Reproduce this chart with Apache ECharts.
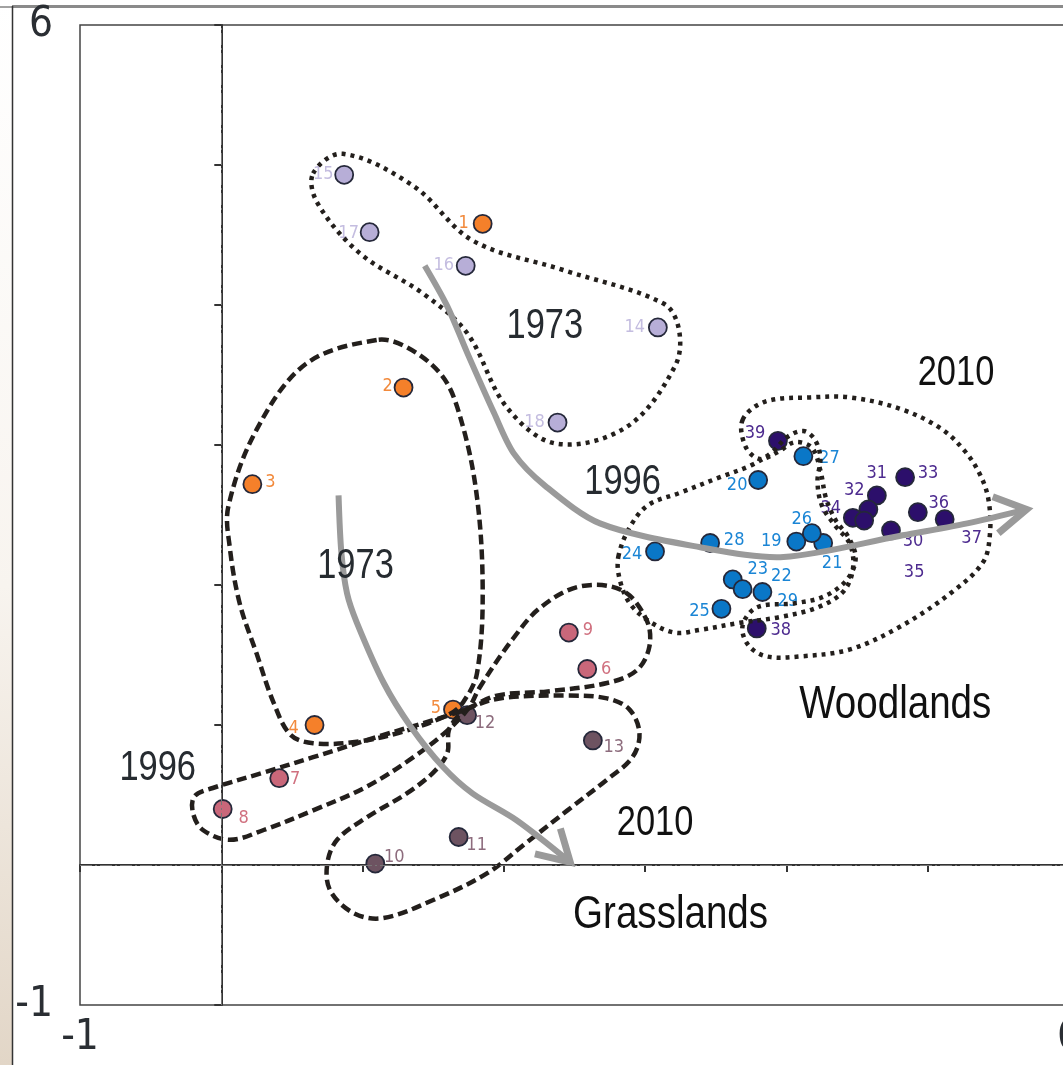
<!DOCTYPE html>
<html>
<head>
<meta charset="utf-8">
<script src="https://cdn.jsdelivr.net/npm/echarts@6/dist/echarts.min.js"></script>
<style>
  html, body { margin: 0; padding: 0; background: #fff; }
  #chart { width: 1063px; height: 1065px; }
</style>
</head>
<body>
<div id="chart"></div>
<script>
// site scores
// grasslands 1973 (orange)
var g73Id = [1, 2, 3, 4, 5];
var g73X = [1.85, 1.29, 0.22, 0.66, 1.64];
var g73Y = [4.58, 3.41, 2.72, 1.00, 1.11];
// grasslands 1996 (pink)
var g96Id = [6, 7, 8, 9];
var g96X = [2.59, 0.41, 0.01, 2.46];
var g96Y = [1.40, 0.62, 0.40, 1.66];
// grasslands 2010 (mauve)
var g10Id = [10, 11, 12, 13];
var g10X = [1.09, 1.68, 1.74, 2.63];
var g10Y = [0.01, 0.20, 1.07, 0.89];
// woodlands 1973 (lavender)
var w73Id = [14, 15, 16, 17, 18];
var w73X = [3.09, 0.87, 1.73, 1.05, 2.38];
var w73Y = [3.84, 4.93, 4.28, 4.52, 3.16];
// woodlands 1996 (blue)
var w96Id = [19, 20, 21, 22, 23, 24, 25, 26, 27, 28, 29];
var w96X = [4.07, 3.80, 4.26, 3.83, 3.62, 3.07, 3.54, 4.18, 4.12, 3.46, 3.69];
var w96Y = [2.31, 2.75, 2.30, 1.95, 2.04, 2.24, 1.83, 2.37, 2.92, 2.30, 1.97];
// woodlands 2010 (purple)
var w10Id = [30, 31, 32, 33, 34, 35, 36, 37, 38, 39];
var w10X = [4.74, 4.64, 4.58, 4.84, 4.47, 4.55, 4.93, 5.12, 3.79, 3.94];
var w10Y = [2.39, 2.64, 2.54, 2.77, 2.48, 2.46, 2.52, 2.47, 1.69, 3.03];

// hand drawn envelopes round each group (data units)
var hullW73 = [[0.65,4.94],[0.86,5.08],[1.36,4.85],[1.78,4.46],[2.42,4.25],[3.13,4.01],[3.24,3.82],[3.21,3.56],
  [2.87,3.13],[2.37,3.01],[2.02,3.27],[1.74,3.80],[1.43,4.08],[0.98,4.37],[0.68,4.73]];
var hullG73 = [[1.10,3.75],[0.60,3.58],[0.25,3.11],[0.05,2.56],[0.06,2.27],[0.13,1.87],[0.25,1.51],[0.37,1.16],
  [0.49,0.93],[0.65,0.87],[0.96,0.88],[1.31,0.96],[1.62,1.08],[1.71,1.16],[1.81,1.37],[1.85,1.99],[1.80,2.70],
  [1.67,3.27],[1.55,3.51],[1.31,3.70]];
var hullG96 = [[1.70,1.10],[1.12,0.92],[0.65,0.77],[0.30,0.66],[-0.06,0.55],[-0.19,0.49],[-0.20,0.37],[-0.13,0.25],
  [0.06,0.18],[0.30,0.25],[0.65,0.39],[1.03,0.56],[1.36,0.77],[1.60,0.96],[1.75,1.12],[1.83,1.27],[2.06,1.61],
  [2.26,1.84],[2.54,1.99],[2.84,1.96],[3.01,1.75],[3.03,1.56],[2.94,1.39],[2.73,1.30],[2.31,1.24],[1.95,1.21]];
var hullG10 = [[1.73,1.11],[1.97,1.19],[2.45,1.21],[2.73,1.19],[2.89,1.11],[2.96,0.94],[2.91,0.77],[2.73,0.61],
  [2.45,0.39],[2.16,0.16],[1.88,-0.06],[1.50,-0.25],[1.14,-0.38],[0.93,-0.34],[0.77,-0.18],[0.75,0.01],[0.82,0.18],
  [1.03,0.34],[1.31,0.51],[1.50,0.66],[1.60,0.80],[1.61,0.96],[1.68,1.07]];
var hullW96 = [[2.81,2.20],[2.89,2.41],[3.02,2.57],[3.25,2.66],[3.53,2.77],[3.76,2.86],[3.90,2.95],[4.01,3.06],
  [4.12,3.10],[4.20,3.04],[4.24,2.91],[4.22,2.74],[4.25,2.57],[4.34,2.43],[4.45,2.29],[4.47,2.11],[4.40,1.95],
  [4.22,1.84],[3.95,1.77],[3.67,1.73],[3.39,1.68],[3.21,1.66],[3.03,1.74],[2.89,1.87],[2.82,2.04]];
var hullW10 = [[3.69,3.18],[3.85,3.31],[4.17,3.34],[4.45,3.34],[4.80,3.26],[5.09,3.12],[5.26,2.96],[5.37,2.79],
  [5.43,2.61],[5.44,2.36],[5.39,2.16],[5.16,1.94],[4.80,1.70],[4.45,1.54],[4.10,1.49],[3.86,1.49],[3.73,1.57],
  [3.69,1.71],[3.79,1.84],[4.06,1.87],[4.27,1.92],[4.43,2.04],[4.49,2.19],[4.44,2.34],[4.35,2.46],[4.28,2.62],
  [4.24,2.82],[4.18,2.98],[4.06,3.02],[3.94,2.95],[3.81,2.90],[3.71,2.99]];

// trajectories (grey arrows)
var arrowWood = [[1.44,4.28],[1.60,3.99],[1.74,3.66],[1.93,3.23],[2.07,2.94],[2.29,2.71],[2.68,2.44],[3.39,2.27],
  [3.98,2.20],[4.80,2.35],[5.28,2.44],[5.70,2.54]];
var arrowWoodHead = [[5.46,2.63],[5.70,2.54],[5.50,2.37]];
var arrowGrass = [[0.83,2.64],[0.85,2.23],[0.89,1.94],[0.96,1.73],[1.15,1.30],[1.34,0.99],[1.57,0.70],[1.78,0.51],
  [2.09,0.32],[2.47,0.02]];
var arrowGrassHead = [[2.40,0.26],[2.47,0.02],[2.22,0.08]];

// annotation texts
var noteText = ['1973', '1973', '1996', '1996', '2010', '2010', 'Woodlands', 'Grasslands'];
var noteX = [2.29, 0.95, 2.84, -0.45, 5.20, 3.07, 4.77, 3.18];
var noteY = [3.85, 2.13, 2.73, 0.69, 3.51, 0.30, 1.14, -0.36];

// styling below
var FONT = "'DejaVu Sans Condensed', 'Liberation Sans Narrow', sans-serif";
var NOTE_FONT = "'Liberation Sans', Arial, sans-serif";
var labelOffset = {
  1:[-19,0], 2:[-16,-1], 3:[18,-2], 4:[-21,3], 5:[-17,-1], 6:[19,0], 7:[16,1], 8:[21,9], 9:[19,-2],
  10:[19,-6], 11:[18,8], 12:[18,8], 13:[21,7], 14:[-23,0], 15:[-21,0], 16:[-22,0], 17:[-21,1], 18:[-23,0],
  19:[-25,0], 20:[-21,5], 21:[9,20], 22:[19,-16], 23:[25,-10], 24:[-23,3], 25:[-22,3], 26:[-10,-14],
  27:[26,2], 28:[24,-3], 29:[45,12], 30:[22,11], 31:[0,-22], 32:[-14,-19], 33:[23,-4], 34:[-22,-9],
  35:[50,52], 36:[21,-9], 37:[27,19], 38:[24,2], 39:[-23,-7]
};

function pts(ids, xs, ys) {
  return ids.map(function (id, i) {
    return { value: [xs[i], ys[i]], name: String(id), label: { offset: labelOffset[id] } };
  });
}

function group(ids, xs, ys, fill, txt) {
  return {
    type: 'scatter',
    z: 2,
    symbol: 'circle',
    symbolSize: 18,
    itemStyle: { color: fill, borderColor: '#25283a', borderWidth: 1.8, opacity: 1 },
    label: {
      show: true, position: 'inside', formatter: '{b}',
      color: txt, fontSize: 18, fontFamily: FONT
    },
    emphasis: { disabled: true },
    data: pts(ids, xs, ys)
  };
}

var hullPaths = [hullW73, hullG73, hullG96, hullG10, hullW96, hullW10];
var hullDash = [[4, 5], [10, 5], [10, 5], [10, 5], [4, 5], [4, 5]];
var arrowPaths = [arrowWood, arrowGrass];
var arrowHeads = [arrowWoodHead, arrowGrassHead];

var chart = echarts.init(document.getElementById('chart'));

var option = {
  animation: false,
  backgroundColor: '#fff',
  grid: {
    left: 80, right: -6, top: 25, bottom: 60,
    outerBoundsMode: 'none', containLabel: false,
    show: true, borderColor: '#444', borderWidth: 1.5
  },
  xAxis: {
    type: 'value', min: -1, max: 6, interval: 1,
    axisLine: { lineStyle: { color: '#333', width: 2 } },
    axisTick: { length: 7, lineStyle: { color: '#333', width: 2 } },
    splitLine: { show: false },
    axisLabel: {
      margin: 12, fontSize: 42, color: '#2a2e33', fontFamily: FONT,
      formatter: function (v) { return (v === -1 || v === 6) ? String(v) : ''; }
    }
  },
  yAxis: {
    type: 'value', min: -1, max: 6, interval: 1,
    axisLine: { lineStyle: { color: '#333', width: 2 } },
    axisTick: { length: 7, lineStyle: { color: '#333', width: 2 } },
    splitLine: { show: false },
    axisLabel: {
      margin: 27, fontSize: 42, color: '#2a2e33', fontFamily: FONT,
      formatter: function (v) { return (v === -1 || v === 6) ? String(v) : ''; }
    }
  },
  graphic: [
    { type: 'rect', left: 0, top: 0, z: -1, shape: { width: 12, height: 1065 },
      style: { fill: new echarts.graphic.LinearGradient(0, 0, 0, 1, [
        { offset: 0, color: '#ffffff' }, { offset: 0.55, color: '#f8f4ef' }, { offset: 1, color: '#e2d6c7' }]) } },
    { type: 'line', shape: { x1: 12, y1: 6.5, x2: 1063, y2: 6.5 }, style: { stroke: '#8a8a8a', lineWidth: 3 } },
    { type: 'line', shape: { x1: 0, y1: 7, x2: 12, y2: 7 }, style: { stroke: '#444', lineWidth: 1 } },
    { type: 'line', shape: { x1: 12.5, y1: 6, x2: 12.5, y2: 1065 }, style: { stroke: '#333', lineWidth: 1.5 } }
  ],
  series: [
    group(g73Id, g73X, g73Y, '#f5802a', '#f28a3c'),
    group(g96Id, g96X, g96Y, '#c9677a', '#d0707f'),
    group(g10Id, g10X, g10Y, '#6d5361', '#8d6c7d'),
    group(w73Id, w73X, w73Y, '#b7aed7', '#c4bde0'),
    group(w96Id, w96X, w96Y, '#0a77c7', '#1a85d5'),
    group(w10Id, w10X, w10Y, '#2c0f6b', '#4d2b8f'),
    {
      // group envelopes
      type: 'custom', coordinateSystem: 'cartesian2d', z: 3, silent: true,
      encode: { x: 0, y: 1 },
      data: hullPaths.map(function (h, i) { return [h[0][0], h[0][1], i]; }),
      renderItem: function (params, api) {
        var i = api.value(2);
        return {
          type: 'polygon',
          shape: { points: hullPaths[i].map(function (p) { return api.coord(p); }), smooth: 0.35 },
          style: { fill: 'none', stroke: '#231f1c', lineWidth: 4.5, lineDash: hullDash[i], lineCap: 'butt' }
        };
      },
      markLine: {
        silent: true, symbol: 'none', label: { show: false },
        lineStyle: { color: '#777', width: 1, type: [12, 3, 2, 3] },
        data: [{ xAxis: 0 }, { yAxis: 0 }]
      }
    },
    {
      // trajectories
      type: 'custom', coordinateSystem: 'cartesian2d', z: 4, silent: true,
      encode: { x: 0, y: 1 },
      data: arrowPaths.map(function (a, i) { return [a[0][0], a[0][1], i]; }),
      renderItem: function (params, api) {
        var i = api.value(2);
        return {
          type: 'group',
          children: [
            { type: 'polyline',
              shape: { points: arrowPaths[i].map(function (p) { return api.coord(p); }), smooth: 0.3 },
              style: { fill: 'none', stroke: '#9a9a9a', lineWidth: 6 } },
            { type: 'polyline',
              shape: { points: arrowHeads[i].map(function (p) { return api.coord(p); }) },
              style: { fill: 'none', stroke: '#9a9a9a', lineWidth: 7, lineJoin: 'miter' } }
          ]
        };
      }
    },
    {
      // year / habitat notes
      type: 'custom', coordinateSystem: 'cartesian2d', z: 5, silent: true,
      encode: { x: 0, y: 1 },
      data: noteText.map(function (t, i) { return [noteX[i], noteY[i], i]; }),
      renderItem: function (params, api) {
        var i = api.value(2);
        var p = api.coord([api.value(0), api.value(1)]);
        var big = noteText[i].length > 4;
        return {
          type: 'text', x: p[0], y: p[1], scaleX: 0.82,
          style: {
            text: noteText[i], fill: big || i === 4 || i === 5 ? '#111' : '#262b30',
            fontSize: big ? 47 : 42, fontFamily: NOTE_FONT, align: 'center', verticalAlign: 'middle'
          }
        };
      }
    }
  ]
};

chart.setOption(option);
</script>
</body>
</html>
